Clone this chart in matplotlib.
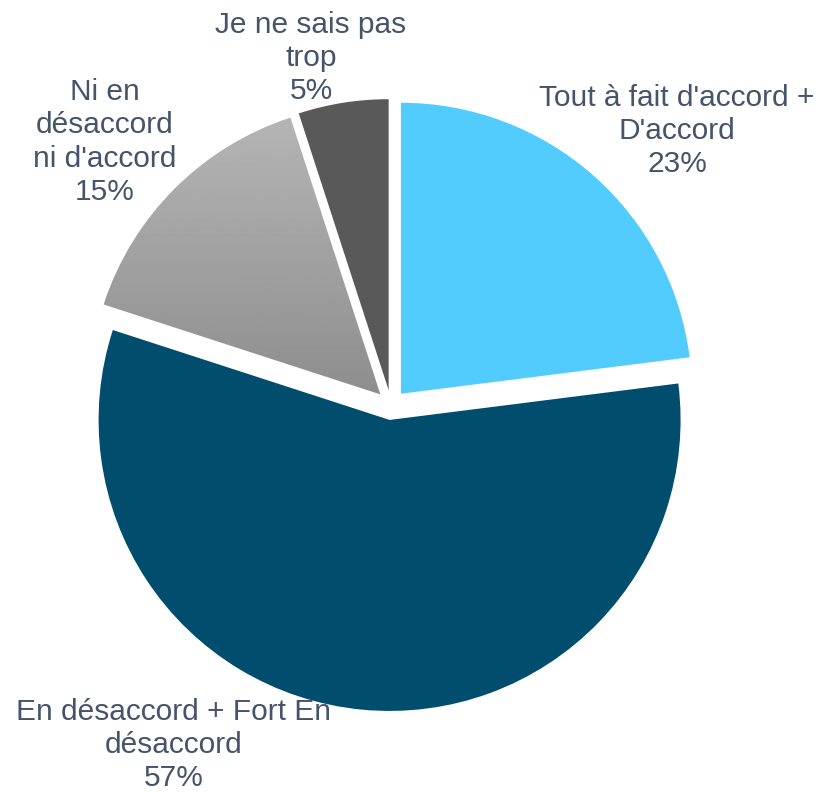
import numpy as np
import matplotlib
matplotlib.use("Agg")
import matplotlib.pyplot as plt

# Données
categories = ["Tout à fait d'accord +\nD'accord",
              "En désaccord + Fort En\ndésaccord",
              "Ni en\ndésaccord\nni d'accord",
              "Je ne sais pas\ntrop"]
valeurs = [23, 57, 15, 5]
couleurs = ["#52CCFF", "#004D6E", "#A3A3A3", "#595959"]

# position des étiquettes (pixels, origine en bas à gauche)
pos_etiquettes = [(677, 661), (174, 47), (105, 650), (311, 734)]

plt.rcParams['font.family'] = ['Liberation Sans', 'DejaVu Sans']

W, H = 818, 792
fig = plt.figure(figsize=(W / 100, H / 100), dpi=100)
ax = fig.add_axes([0, 0, 1, 1])

centre = (391, 387)
rayon = 291
wedges, _ = ax.pie(valeurs, colors=couleurs, startangle=90, counterclock=False,
                   radius=rayon, center=centre, explode=[15] * 4,
                   wedgeprops=dict(linewidth=0), frame=True)
ax.set_xlim(0, W)
ax.set_ylim(0, H)
ax.set_aspect('equal')
ax.axis('off')

# dégradé vertical sur la part grise
gris = wedges[2]
grad = np.linspace(0.71, 0.55, 256).reshape(-1, 1)
img = ax.imshow(grad, cmap='gray', vmin=0, vmax=1, aspect='auto',
                extent=[centre[0] - rayon - 20, centre[0], centre[1], centre[1] + rayon],
                origin='upper', zorder=gris.get_zorder() + 0.1)
img.set_clip_path(gris)
gris.set_facecolor('none')
ax.set_xlim(0, W)
ax.set_ylim(0, H)

for (x, y), cat, v in zip(pos_etiquettes, categories, valeurs):
    ax.text(x, y, f"{cat}\n{v}%", ha='center', va='center', fontsize=21.5,
            color='#44546A', linespacing=1.23)

fig.savefig("out.png", dpi=100)
